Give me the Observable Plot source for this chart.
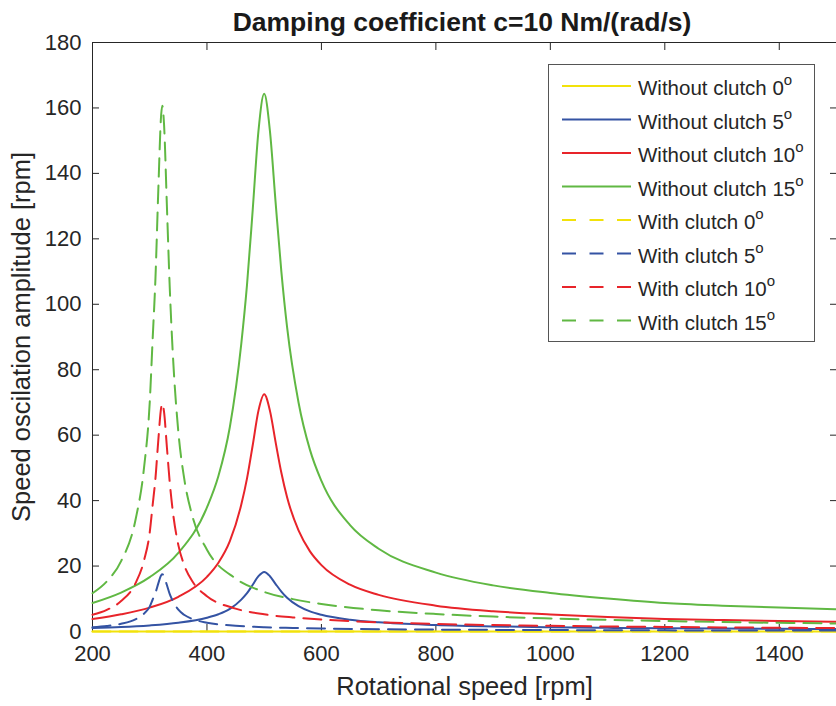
<!DOCTYPE html>
<html><head><meta charset="utf-8">
<script src="https://cdn.jsdelivr.net/npm/d3@7"></script>
<script src="https://cdn.jsdelivr.net/npm/@observablehq/plot@0.6"></script>
<style>
body{margin:0;background:#fff;}
#wrap{position:relative;width:836px;height:706px;overflow:hidden;font-family:"Liberation Sans",Arial,Helvetica,sans-serif;color:#262626;}
#title{position:absolute;left:0;top:7px;width:924px;text-align:center;font-weight:bold;font-size:26.5px;line-height:30px;color:#1a1a1a;}
#legend{position:absolute;left:548px;top:64px;}
</style></head><body>
<div id="wrap"><div id="chart"></div><div id="title">Damping coefficient c=10 Nm/(rad/s)</div><div id="legend"></div></div>
<script>
// ---- data ----
const xTicks = [200, 400, 600, 800, 1000, 1200, 1400];
const yTicks = [0, 20, 40, 60, 80, 100, 120, 140, 160, 180];

const speedFlat = [200, 1500];
const without0 = [0, 0];
const with0 = [0, 0];

const speedWithout = [200,250,300,350,400,420,440,460,470,480,490,500,510,520,530,540,560,580,600,650,700,800,900,1000,1100,1200,1300,1400,1500];
const without15 = [8.7,11.9,16.6,24.0,37.9,47.5,62.5,88,106,129,153,164.3,153,131,110,93,70,55.5,46,32.5,25.3,18,14.1,11.8,10.1,8.7,7.9,7.3,6.8];
const without10 = [3.8,5.25,7.3,10.6,16.7,21,27.6,38.8,46.8,57,67.5,72.5,67.5,57.8,48.5,41,30.9,24.5,20.3,14.3,11.2,7.9,6.2,5.2,4.45,3.85,3.5,3.2,3.0];
const without5 = [1.1,1.35,1.84,2.66,4.2,5.26,6.9,9.75,11.7,14.3,16.9,18.2,16.9,14.5,12.2,10.3,7.75,6.15,5.1,3.6,2.8,2.0,1.56,1.3,1.12,0.97,0.88,0.81,0.75];

const speedWith = [200,225,250,275,290,300,305,310,315,320,322,325,330,335,340,350,360,375,400,450,500,550,600,700,800,900,1000,1100,1200,1300,1400,1500];
const with15 = [11.7,15.3,21.5,34,50,70,89,108,135,158,160.7,155,130,105,86,61,47,35,25,16.2,12.1,9.9,8.4,6.5,5.35,4.55,4.0,3.55,3.2,2.9,2.65,2.45];
const with10 = [5.1,6.6,9.3,14.7,21.7,30.3,38.5,46.8,58.5,68.4,69.6,67.1,56.3,45.5,37.2,26.4,20.4,15.2,10.8,7.0,5.25,4.3,3.65,2.8,2.3,1.97,1.73,1.54,1.39,1.26,1.15,1.06];
const with5 = [1.3,1.67,2.35,3.7,5.45,7.6,9.7,11.8,14.7,17.2,17.5,16.9,14.2,11.4,9.4,6.65,5.1,3.8,2.7,1.77,1.32,1.08,0.92,0.71,0.58,0.5,0.44,0.39,0.35,0.32,0.29,0.27];

const seriesNames = ["Without clutch 0","Without clutch 5","Without clutch 10","Without clutch 15","With clutch 0","With clutch 5","With clutch 10","With clutch 15"];
const seriesColors = ["#f2e20a","#3453a3","#e8242a","#60b843","#f2e20a","#3453a3","#e8242a","#60b843"];
const seriesDashed = [false,false,false,false,true,true,true,true];

// ---- build ----
const seriesData = [
  [speedFlat, without0], [speedWithout, without5], [speedWithout, without10], [speedWithout, without15],
  [speedFlat, with0], [speedWith, with5], [speedWith, with10], [speedWith, with15]
].map(([xs, ys]) => xs.map((x, i) => ({speed: x, amp: ys[i]})));

const axisColor = "#262626";
const lineMarks = seriesData.map((d, i) => Plot.line(d, {
  x: "speed", y: "amp", stroke: seriesColors[i], strokeWidth: 2,
  strokeDasharray: seriesDashed[i] ? "18,9" : null, curve: "monotone-x"
}));

const chart = Plot.plot({
  width: 836, height: 706,
  marginTop: 42, marginBottom: 75, marginLeft: 92, marginRight: 0,
  x: {domain: [200, 1500]},
  y: {domain: [0, 180]},
  style: {fontFamily: "'Liberation Sans', Arial, Helvetica, sans-serif", fontSize: "22px", color: axisColor, background: "white"},
  marks: [
    Plot.ruleX([200], {stroke: axisColor, strokeWidth: 1}),
    Plot.ruleY([180], {stroke: axisColor, strokeWidth: 1}),
    Plot.ruleY([0], {stroke: axisColor, strokeWidth: 1}),
    Plot.axisX({ticks: xTicks, tickSize: -7, tickPadding: 21, tickFormat: d => String(d), label: "Rotational speed [rpm]", labelAnchor: "center", labelArrow: "none", labelOffset: 63}),
    Plot.axisX({anchor: "top", ticks: xTicks, tickSize: -7, tickFormat: () => "", label: null}),
    Plot.axisY({ticks: yTicks, tickSize: -7, tickPadding: 18, tickFormat: d => String(d), label: "Speed oscilation amplitude [rpm]", labelAnchor: "center", labelArrow: "none", labelOffset: 81}),
    Plot.axisY({anchor: "right", ticks: yTicks, tickSize: -7, tickFormat: () => "", label: null}),
    ...lineMarks
  ]
});
document.getElementById("chart").appendChild(chart);
d3.select(chart).selectAll('g[aria-label="x-axis label"] text, g[aria-label="y-axis label"] text').style("font-size", "25.5px");

// ---- legend ----
const lg = d3.select("#legend").append("svg").attr("width", 268).attr("height", 280)
  .style("font-family", "'Liberation Sans', Arial, Helvetica, sans-serif");
lg.append("rect").attr("x", 0.5).attr("y", 0.5).attr("width", 266).attr("height", 277)
  .attr("fill", "white").attr("stroke", "#555").attr("stroke-width", 1);
seriesNames.forEach((name, i) => {
  const cy = 22 + i * 33.5;
  lg.append("line").attr("x1", 14).attr("x2", 83).attr("y1", cy).attr("y2", cy)
    .attr("stroke", seriesColors[i]).attr("stroke-width", 2)
    .attr("stroke-dasharray", seriesDashed[i] ? "14,13.5" : null);
  const t = lg.append("text").attr("x", 90).attr("y", cy + 9).attr("font-size", 20.5).attr("fill", "#262626");
  t.append("tspan").text(name);
  t.append("tspan").attr("dy", -10).attr("font-size", 15).text("o");
});
</script></body></html>
